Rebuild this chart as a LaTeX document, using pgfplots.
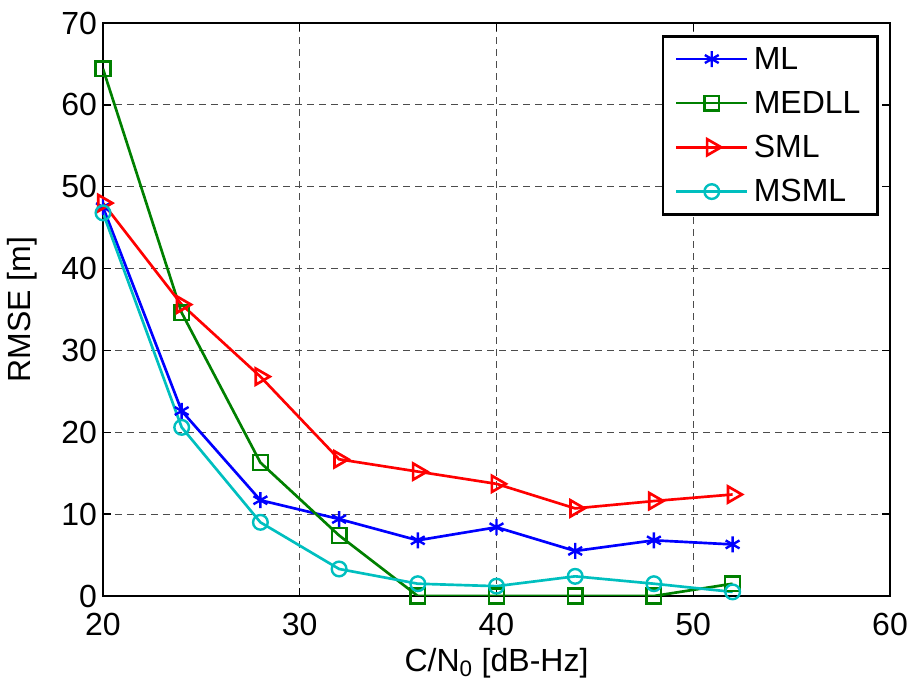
\documentclass[border=0pt]{standalone}
\usepackage{fontspec}
\setmainfont{Liberation Sans}
\usepackage{pgfplots}
\pgfplotsset{compat=1.18}

\begin{document}
\begin{tikzpicture}
\begin{axis}[
  name=ax,
  width=590.25pt, height=429.75pt,
  scale only axis,
  xmin=20, xmax=60, ymin=0, ymax=70,
  xtick={20,30,...,60}, ytick={0,10,...,70},
  font=\fontsize{24}{28}\selectfont,
  /pgf/number format/assume math mode=true,
  tick align=inside,
  major tick length=6pt,
  tick style={black, line width=1pt},
  axis line style={black, line width=2pt},
  xmajorgrids, ymajorgrids,
  grid style={black!70, line width=0.8pt, dash pattern=on 5pt off 4pt},
  xticklabel style={yshift=-9pt},
  yticklabel style={xshift=-1pt},
  xlabel={C/N\textsubscript{0} [dB-Hz]},
  ylabel={RMSE [m]},
  xlabel style={yshift=-2.5pt},
  ylabel style={yshift=11pt},
  every axis plot/.append style={line width=2pt, mark options={solid, line width=1.8pt}},
  legend cell align=left,
  legend style={at={(rel axis cs:0.710,0.979)}, anchor=north west,
    draw=black, line width=2pt, inner xsep=9pt, inner ysep=6pt,
    row sep=11pt,
    nodes={inner xsep=4pt},
    font=\fontsize{24}{28}\selectfont},
  legend image code/.code={
    \draw[#1, mark repeat=2, mark phase=2] plot coordinates {(0pt,0pt) (26.5pt,0pt) (53pt,0pt)};
  },
]
\addplot[color=blue, mark=asterisk, mark size=6pt] coordinates {
(20,47.5) (24,22.6) (28,11.7) (32,9.4) (36,6.8) (40,8.4) (44,5.5) (48,6.8) (52,6.3)};
\addlegendentry{ML}
\addplot[color={rgb,1:red,0;green,0.5;blue,0}, mark=square, mark size=5.5pt] coordinates {
(20,64.4) (24,34.6) (28,16.3) (32,7.4) (36,0) (40,0) (44,0) (48,0) (52,1.5)};
\addlegendentry{MEDLL}
\addplot[color=red, mark=triangle, mark size=7pt, mark options={rotate=-90}] coordinates {
(20,48.0) (24,35.6) (28,26.8) (32,16.7) (36,15.2) (40,13.7) (44,10.7) (48,11.6) (52,12.4)};
\addlegendentry{SML}
\addplot[color={rgb,1:red,0;green,0.75;blue,0.75}, mark=o, mark size=5.5pt] coordinates {
(20,46.8) (24,20.6) (28,9.0) (32,3.3) (36,1.5) (40,1.2) (44,2.4) (48,1.5) (52,0.5)};
\addlegendentry{MSML}
\end{axis}
\pgfresetboundingbox
\path ([xshift=-77.25pt, yshift=-70.5pt]ax.south west) rectangle ([xshift=17.25pt, yshift=17.25pt]ax.north east);
\end{tikzpicture}
\end{document}
